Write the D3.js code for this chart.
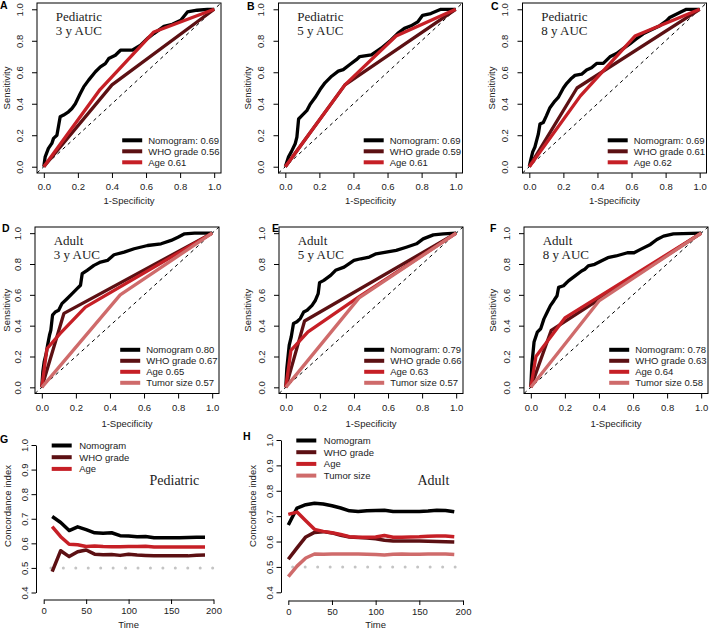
<!DOCTYPE html>
<html>
<head>
<meta charset="utf-8">
<script src="https://cdn.jsdelivr.net/npm/d3@7"></script>
<style>
body { margin: 0; background: #fff; }
</style>
</head>
<body>
<script>
// ROC points, [1-specificity, sensitivity]
const pedNomo3 = [[0,0],[0.008,0.063],[0.027,0.116],[0.047,0.148],[0.057,0.18],[0.077,0.2],[0.096,0.317],[0.116,0.328],[0.145,0.349],[0.165,0.37],[0.185,0.40],[0.214,0.465],[0.234,0.507],[0.263,0.55],[0.303,0.603],[0.332,0.634],[0.361,0.655],[0.381,0.687],[0.42,0.708],[0.45,0.74],[0.519,0.74],[0.568,0.772],[0.607,0.814],[0.646,0.846],[0.705,0.892],[0.754,0.905],[0.804,0.93],[0.843,0.983],[0.90,0.994],[0.96,1],[1,1]];
const pedWho3 = [[0,0],[0.4,0.52],[1,1]];
const pedAge3 = [[0,0],[0.33,0.49],[0.646,0.856],[1,1]];
const pedLabels3 = ["Nomogram: 0.69", "WHO grade 0.56", "Age 0.61"];

const pedNomo5 = [[0,0],[0.019,0.063],[0.035,0.094],[0.058,0.146],[0.068,0.188],[0.078,0.303],[0.097,0.324],[0.126,0.356],[0.146,0.397],[0.175,0.439],[0.204,0.49],[0.233,0.533],[0.272,0.575],[0.311,0.607],[0.34,0.617],[0.379,0.649],[0.417,0.68],[0.437,0.70],[0.505,0.711],[0.563,0.753],[0.621,0.805],[0.66,0.847],[0.699,0.879],[0.738,0.895],[0.777,0.92],[0.806,0.962],[0.854,0.973],[0.913,1],[1,1]];
const pedWho5 = [[0,0],[0.35,0.52],[1,1]];
const pedAge5 = [[0,0],[0.35,0.52],[0.65,0.83],[1,1]];
const pedLabels5 = ["Nomogram: 0.69", "WHO grade 0.59", "Age 0.61"];

const pedNomo8 = [[0,0],[0.008,0.042],[0.02,0.094],[0.033,0.125],[0.043,0.167],[0.053,0.208],[0.0625,0.271],[0.082,0.281],[0.10,0.323],[0.121,0.375],[0.15,0.417],[0.17,0.44],[0.2,0.5],[0.22,0.53],[0.248,0.5625],[0.268,0.58],[0.307,0.5875],[0.336,0.615],[0.365,0.629],[0.395,0.656],[0.434,0.656],[0.473,0.698],[0.512,0.719],[0.551,0.75],[0.59,0.78],[0.629,0.8125],[0.668,0.844],[0.707,0.865],[0.766,0.896],[0.805,0.927],[0.824,0.948],[0.883,0.979],[0.922,1],[1,1]];
const pedWho8 = [[0,0],[0.28,0.5],[1,1]];
const pedAge8 = [[0,0],[0.3,0.45],[0.62,0.83],[1,1]];
const pedLabels8 = ["Nomogram: 0.69", "WHO grade 0.61", "Age 0.62"];

const adNomo3 = [[0,0],[0.006,0.101],[0.014,0.166],[0.026,0.22],[0.034,0.274],[0.045,0.338],[0.053,0.371],[0.063,0.468],[0.079,0.489],[0.099,0.5],[0.118,0.543],[0.148,0.575],[0.178,0.608],[0.207,0.64],[0.227,0.662],[0.237,0.737],[0.266,0.759],[0.306,0.791],[0.345,0.8125],[0.385,0.823],[0.424,0.86],[0.483,0.877],[0.542,0.899],[0.621,0.92],[0.7,0.931],[0.759,0.953],[0.799,0.974],[0.838,0.996],[0.897,1],[1,1]];
const adWho3 = [[0,0],[0.13,0.48],[1,1]];
const adAge3 = [[0,0],[0.03,0.25],[0.108,0.35],[0.256,0.52],[1,1]];
const adTumor3 = [[0,0],[0.46,0.6],[1,1]];
const adLabels3 = ["Nomogram 0.80", "WHO grade 0.67", "Age 0.65", "Tumor size 0.57"];

const adNomo5 = [[0,0],[0.006,0.123],[0.02,0.274],[0.032,0.328],[0.045,0.414],[0.065,0.425],[0.085,0.446],[0.105,0.489],[0.125,0.5],[0.154,0.532],[0.174,0.565],[0.19,0.608],[0.198,0.679],[0.223,0.694],[0.263,0.726],[0.292,0.759],[0.342,0.78],[0.372,0.802],[0.4,0.823],[0.44,0.834],[0.49,0.845],[0.53,0.866],[0.589,0.877],[0.648,0.888],[0.707,0.909],[0.767,0.931],[0.806,0.963],[0.866,0.989],[0.925,0.996],[1,1]];
const adWho5 = [[0,0],[0.11,0.43],[1,1]];
const adAge5 = [[0,0],[0.03,0.24],[0.13,0.36],[0.42,0.58],[1,1]];
const adTumor5 = [[0,0],[0.43,0.58],[1,1]];
const adLabels5 = ["Nomogram: 0.79", "WHO grade 0.66", "Age 0.63", "Tumor size 0.57"];

const adNomo8 = [[0,0],[0.006,0.144],[0.019,0.294],[0.038,0.358],[0.058,0.38],[0.077,0.444],[0.096,0.487],[0.115,0.53],[0.135,0.562],[0.154,0.594],[0.163,0.648],[0.192,0.659],[0.221,0.691],[0.26,0.723],[0.298,0.755],[0.317,0.766],[0.337,0.788],[0.375,0.798],[0.413,0.82],[0.452,0.841],[0.5,0.852],[0.567,0.873],[0.606,0.873],[0.644,0.895],[0.702,0.927],[0.74,0.959],[0.779,0.981],[0.837,0.996],[1,1]];
const adWho8 = [[0,0],[0.12,0.37],[1,1]];
const adAge8 = [[0,0],[0.03,0.2],[0.2,0.45],[1,1]];
const adTumor8 = [[0,0],[0.4,0.56],[1,1]];
const adLabels8 = ["Nomogram: 0.78", "WHO grade 0.63", "Age 0.64", "Tumor size 0.58"];

// concordance index over time
const pedTimes = [10, 20, 30, 40, 50, 60, 70, 80, 90, 100, 110, 120, 130, 140, 150, 160, 170, 180, 190];
const pedNomoC = [0.709, 0.685, 0.652, 0.667, 0.656, 0.643, 0.641, 0.643, 0.631, 0.630, 0.627, 0.628, 0.623, 0.623, 0.623, 0.623, 0.624, 0.625, 0.625];
const pedWhoC = [0.485, 0.570, 0.546, 0.566, 0.573, 0.556, 0.554, 0.555, 0.551, 0.556, 0.553, 0.551, 0.549, 0.549, 0.549, 0.549, 0.549, 0.552, 0.553];
const pedAgeC = [0.668, 0.627, 0.596, 0.594, 0.587, 0.589, 0.587, 0.586, 0.586, 0.587, 0.587, 0.588, 0.585, 0.585, 0.585, 0.585, 0.585, 0.585, 0.585];

const adTimes = [0, 10, 20, 30, 40, 50, 60, 70, 80, 90, 100, 110, 120, 130, 140, 150, 160, 170, 180, 190];
const adNomoC = [0.665, 0.732, 0.745, 0.751, 0.748, 0.741, 0.732, 0.721, 0.718, 0.721, 0.722, 0.723, 0.718, 0.718, 0.718, 0.718, 0.720, 0.723, 0.722, 0.717];
const adWhoC = [0.530, 0.575, 0.618, 0.636, 0.639, 0.634, 0.625, 0.618, 0.616, 0.614, 0.611, 0.605, 0.602, 0.602, 0.602, 0.602, 0.601, 0.600, 0.599, 0.598];
const adAgeC = [0.707, 0.716, 0.682, 0.648, 0.640, 0.635, 0.628, 0.619, 0.617, 0.617, 0.618, 0.624, 0.617, 0.617, 0.618, 0.619, 0.621, 0.622, 0.622, 0.619];
const adTumorC = [0.462, 0.503, 0.535, 0.551, 0.550, 0.551, 0.551, 0.551, 0.551, 0.550, 0.549, 0.547, 0.550, 0.551, 0.550, 0.550, 0.551, 0.551, 0.551, 0.549];

const pedNames = ["Nomogram", "WHO grade", "Age"];
const adNames = ["Nomogram", "WHO grade", "Age", "Tumor size"];

const rocTicks = [0, 0.2, 0.4, 0.6, 0.8, 1];
const cTicksY = [0.4, 0.5, 0.6, 0.7, 0.8, 0.9, 1.0];
const cTicksX = [0, 50, 100, 150, 200];

const colors = ["#000000", "#5c1013", "#c61f26", "#cf6b6b"];
const sans = "'Liberation Sans', Arial, sans-serif";
const serif = "'Liberation Serif', 'Times New Roman', serif";

let svg = d3.select("body").append("svg")
    .attr("width", 709)
    .attr("height", 629);

svg.append("rect").attr("width", 709).attr("height", 629).attr("fill", "#fff");

function panelLetter(txt, x, y) {
    svg.append("text")
        .attr("x", x).attr("y", y)
        .attr("font-family", sans)
        .attr("font-weight", "bold")
        .attr("font-size", 10.5)
        .text(txt);
}

function rocPanel(p) {
    let boxW = 184;
    let x = d3.scaleLinear().domain([-0.04, 1.04]).range([p.left, p.left + boxW]);
    let y = d3.scaleLinear().domain([-0.04, 1.04]).range([p.bottom, p.top]);
    let g = svg.append("g");

    // reference diagonal
    g.append("line")
        .attr("x1", x(-0.04)).attr("y1", y(-0.04))
        .attr("x2", x(1.04)).attr("y2", y(1.04))
        .attr("stroke", "#000")
        .attr("stroke-width", 1)
        .attr("stroke-dasharray", "3.5,3.5");

    let line = d3.line().x((d) => x(d[0])).y((d) => y(d[1]));
    p.series.forEach((s, i) => {
        g.append("path")
            .attr("d", line(s))
            .attr("fill", "none")
            .attr("stroke", colors[i])
            .attr("stroke-width", 3.3)
            .attr("stroke-linejoin", "round");
    });

    g.append("rect")
        .attr("x", p.left).attr("y", p.top)
        .attr("width", boxW).attr("height", p.bottom - p.top)
        .attr("fill", "none")
        .attr("stroke", "#000");

    // axes
    let xa = g.append("g")
        .attr("transform", "translate(0," + p.bottom + ")")
        .call(d3.axisBottom(x).tickValues(rocTicks).tickFormat(d3.format(".1f")).tickSize(5).tickSizeOuter(0).tickPadding(5.4));
    xa.select(".domain").remove();
    xa.attr("font-size", 9.5).attr("font-family", sans);
    xa.selectAll("text").attr("fill", "#222");

    let ya = g.append("g")
        .attr("transform", "translate(" + p.left + ",0)")
        .call(d3.axisLeft(y).tickValues(rocTicks).tickFormat(d3.format(".1f")).tickSize(5).tickSizeOuter(0));
    ya.select(".domain").remove();
    ya.attr("font-size", 9.5).attr("font-family", sans);
    ya.selectAll("text")
        .attr("transform", "rotate(-90)")
        .attr("x", 0).attr("y", -17.5)
        .attr("dy", "0.35em")
        .attr("text-anchor", "middle")
        .attr("fill", "#222");

    g.append("text")
        .attr("x", p.left + boxW / 2).attr("y", p.bottom + p.titleOff)
        .attr("text-anchor", "middle")
        .attr("font-family", sans).attr("font-size", 9.5).attr("fill", "#222")
        .text("1-Specificity");

    g.append("text")
        .attr("transform", "translate(" + Math.max(p.left - 31, 7) + "," + ((p.top + p.bottom) / 2) + ") rotate(-90)")
        .attr("dy", "0.35em")
        .attr("text-anchor", "middle")
        .attr("font-family", sans).attr("font-size", 9.5).attr("fill", "#222")
        .text("Sensitivity");

    // panel title
    p.title.forEach((t, i) => {
        g.append("text")
            .attr("x", x(0.07)).attr("y", p.top + 18 + i * 14)
            .attr("font-family", serif).attr("font-size", 13).attr("fill", "#222")
            .text(t);
    });

    // legend, bottom right
    let n = p.labels.length;
    let leg = g.append("g");
    let texts = leg.selectAll("text")
        .data(p.labels)
        .enter()
        .append("text")
        .attr("y", (d, i) => p.bottom - 10.7 - (n - 1 - i) * 11)
        .attr("dy", "0.35em")
        .attr("font-family", sans).attr("font-size", 9.5).attr("fill", "#222")
        .text((d) => d);
    let maxW = d3.max(texts.nodes(), (nd) => nd.getComputedTextLength());
    let tx = p.left + boxW - 1.5 - maxW;
    texts.attr("x", tx);
    leg.selectAll("line")
        .data(p.labels)
        .enter()
        .append("line")
        .attr("x1", tx - 26).attr("x2", tx - 6)
        .attr("y1", (d, i) => p.bottom - 10.7 - (n - 1 - i) * 11)
        .attr("y2", (d, i) => p.bottom - 10.7 - (n - 1 - i) * 11)
        .attr("stroke", (d, i) => colors[i])
        .attr("stroke-width", 4);
}

function cPanel(p) {
    let x = d3.scaleLinear().domain([0, 200]).range(p.xRange);
    let y = d3.scaleLinear().domain([0.4, 1.0]).range(p.yRange);
    let g = svg.append("g");

    // 0.5 reference, dotted grey, evenly spaced dots
    let span = x(p.refTo) - x(p.refFrom);
    g.append("line")
        .attr("x1", x(p.refFrom)).attr("x2", x(p.refTo) + 0.5)
        .attr("y1", y(0.5)).attr("y2", y(0.5))
        .attr("stroke", "#c4c4c4")
        .attr("stroke-width", 3)
        .attr("stroke-linecap", "round")
        .attr("stroke-dasharray", "0," + (span / 13));

    p.series.forEach((s, i) => {
        let line = d3.line().x((d, j) => x(p.times[j])).y((d) => y(d));
        g.append("path")
            .attr("d", line(s))
            .attr("fill", "none")
            .attr("stroke", colors[i])
            .attr("stroke-width", 3.5)
            .attr("stroke-linejoin", "round");
    });

    let xa = g.append("g")
        .attr("transform", "translate(0," + p.axisY + ")")
        .call(d3.axisBottom(x).tickValues(cTicksX).tickSize(4.5).tickSizeOuter(0).tickPadding(3));
    xa.attr("font-size", 9.5).attr("font-family", sans);
    xa.selectAll("text").attr("fill", "#222");

    let ya = g.append("g")
        .attr("transform", "translate(" + p.axisX + ",0)")
        .call(d3.axisLeft(y).tickValues(cTicksY).tickFormat(d3.format(".1f")).tickSize(4.5).tickSizeOuter(0));
    ya.attr("font-size", 9.5).attr("font-family", sans);
    ya.selectAll("text")
        .attr("transform", "rotate(-90)")
        .attr("x", 0).attr("y", -11.5)
        .attr("dy", "0.35em")
        .attr("text-anchor", "middle")
        .attr("fill", "#222");

    g.append("text")
        .attr("x", (p.xRange[0] + p.xRange[1]) / 2).attr("y", 628)
        .attr("text-anchor", "middle")
        .attr("font-family", sans).attr("font-size", 9.5).attr("fill", "#222")
        .text("Time");

    g.append("text")
        .attr("transform", "translate(" + (p.axisX - 28) + ",506) rotate(-90)")
        .attr("dy", "0.35em")
        .attr("text-anchor", "middle")
        .attr("font-family", sans).attr("font-size", 9.5).attr("fill", "#222")
        .text("Concordance index");

    g.append("text")
        .attr("x", p.nameX).attr("y", 485)
        .attr("font-family", serif).attr("font-size", 14).attr("fill", "#222")
        .text(p.name);

    // legend, top left
    let lx = x(0) + 8;
    p.names.forEach((nm, i) => {
        let ly = y(1.0) + 0.5 + i * 11.7;
        g.append("line")
            .attr("x1", lx).attr("x2", lx + 20)
            .attr("y1", ly).attr("y2", ly)
            .attr("stroke", colors[i])
            .attr("stroke-width", 4);
        g.append("text")
            .attr("x", lx + 27.5).attr("y", ly)
            .attr("dy", "0.35em")
            .attr("font-family", sans).attr("font-size", 9.5).attr("fill", "#222")
            .text(nm);
    });
}

rocPanel({left: 37, top: 3, bottom: 173, titleOff: 30.5, title: ["Pediatric", "3 y AUC"],
    series: [pedNomo3, pedWho3, pedAge3], labels: pedLabels3});
rocPanel({left: 278.5, top: 3, bottom: 173, titleOff: 30.5, title: ["Pediatric", "5 y AUC"],
    series: [pedNomo5, pedWho5, pedAge5], labels: pedLabels5});
rocPanel({left: 522.5, top: 3, bottom: 173, titleOff: 30.5, title: ["Pediatric", "8 y AUC"],
    series: [pedNomo8, pedWho8, pedAge8], labels: pedLabels8});
rocPanel({left: 35, top: 227, bottom: 393.5, titleOff: 33, title: ["Adult", "3 y AUC"],
    series: [adNomo3, adWho3, adAge3, adTumor3], labels: adLabels3});
rocPanel({left: 279, top: 227, bottom: 393.5, titleOff: 33, title: ["Adult", "5 y AUC"],
    series: [adNomo5, adWho5, adAge5, adTumor5], labels: adLabels5});
rocPanel({left: 524, top: 227, bottom: 393.5, titleOff: 33, title: ["Adult", "8 y AUC"],
    series: [adNomo8, adWho8, adAge8, adTumor8], labels: adLabels8});

cPanel({xRange: [43.7, 213.5], yRange: [592.5, 445], axisX: 36, axisY: 599.5,
    times: pedTimes, series: [pedNomoC, pedWhoC, pedAgeC], names: pedNames,
    name: "Pediatric", nameX: 149.5, refFrom: 8.5, refTo: 199});
cPanel({xRange: [288.3, 463], yRange: [592.3, 440], axisX: 281, axisY: 600.5,
    times: adTimes, series: [adNomoC, adWhoC, adAgeC, adTumorC], names: adNames,
    name: "Adult", nameX: 417.5, refFrom: 5, refTo: 191});

panelLetter("A", 0, 9);
panelLetter("B", 247, 9.5);
panelLetter("C", 491, 10);
panelLetter("D", 2, 232);
panelLetter("E", 272, 232);
panelLetter("F", 490, 232);
panelLetter("G", 0, 443);
panelLetter("H", 243, 440);
</script>
</body>
</html>
